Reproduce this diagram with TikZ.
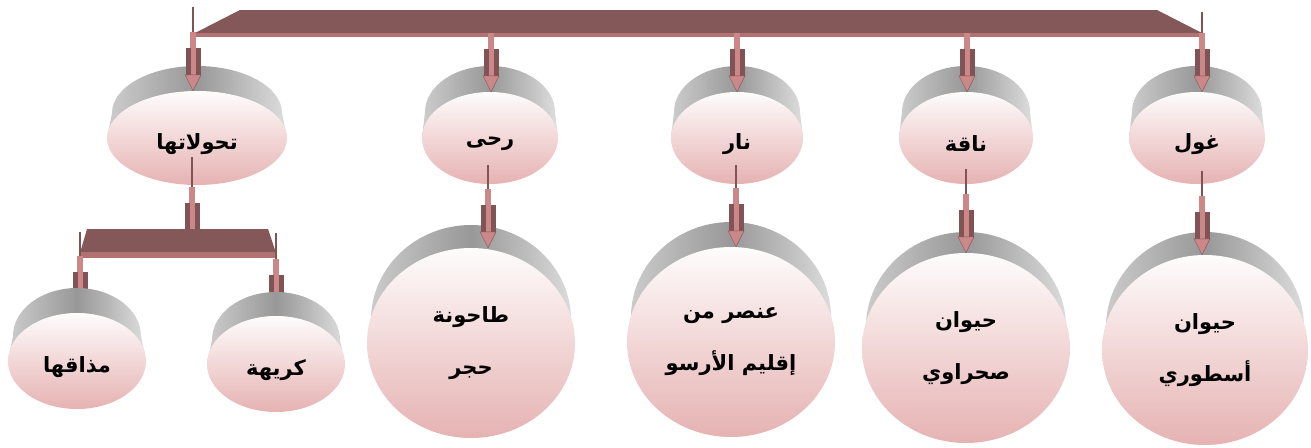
\documentclass[tikz,border=0pt]{standalone}
\usepackage{fontspec}
\newfontfamily\arabicfont[Script=Arabic]{DejaVu Sans}
\TeXXeTstate=1
\usetikzlibrary{shapes.geometric,calc}
\definecolor{barc}{RGB}{132,88,88}
\definecolor{barl}{RGB}{178,114,114}
\definecolor{arrp}{RGB}{204,136,136}
\definecolor{arrd}{RGB}{128,84,84}
\definecolor{pinktop}{RGB}{254,252,252}
\definecolor{pinkbot}{RGB}{230,178,178}
\definecolor{greyl}{RGB}{205,205,205}
\definecolor{greym}{RGB}{152,152,152}
\definecolor{greyr}{RGB}{222,222,222}
\tikzset{
  diskface/.style={ellipse, inner sep=0pt, top color=pinktop, bottom color=pinkbot,
    font=\arabicfont\bfseries\fontsize{21}{52}\selectfont, align=center, text=black},
  diskback/.style={left color=greyl, right color=greyr, middle color=greym},
  barbody/.style={fill=barc},
  barstrip/.style={fill=barl},
}
\newcommand\lowr[1]{\raisebox{-6pt}[\height][\depth]{\beginR #1\endR}}
% #1 name, #2 cx, #3 cy, #4 rx, #5 ry, #6 grey top, #7 grey rx, #8 text
\newcommand\mydisk[8]{%
  \shade[diskback] ({#2-#7},{#6+#5}) arc[start angle=180, end angle=0, x radius=#7pt, y radius=#5pt]
     -- ({#2+#4},#3) -- ({#2-#4},#3) -- cycle;
  \node[diskface, minimum width={2*#4pt}, minimum height={2*#5pt}] (#1) at (#2,#3) {#8};
}
% block arrow from coordinate #1 to coordinate #2
\newcommand\conn[2]{%
  \draw[arrd, line width=2.2pt] (#1) -- ($(#2)+(0,-59)$);
  \fill[arrp] ($(#2)+(-2.7,-59)$) rectangle ($(#2)+(2.7,-43)$);
  \fill[arrd] ($(#2)+(-7.5,-43)$) rectangle ($(#2)+(7.5,-16)$);
  \fill[arrp] ($(#2)+(-2.5,-43)$) rectangle ($(#2)+(2.5,-16)$);
  \filldraw[fill=arrp, draw=arrd, line width=0.4pt] ($(#2)+(-8,-16)$) -- ($(#2)+(8,-16)$) -- (#2) -- cycle;
}
\begin{document}
\begin{tikzpicture}[x=1pt,y=-1pt]
\useasboundingbox (0,0) rectangle (1311,447);
% top bar
\fill[barbody] (195,33) -- (240,10) -- (1157,10) -- (1202,33) -- cycle;
\fill[barstrip] (195,33) rectangle (1203,37);
\coordinate (t1) at (193,7);
\coordinate (t2) at (491,33);
\coordinate (t3) at (737,33);
\coordinate (t4) at (967,33);
\coordinate (t5) at (1202,12);
% top row disks
\mydisk{n1}{197}{138}{90}{47}{66}{85}{\lowr{تحولاتها}}
\mydisk{n2}{490}{138}{68}{46}{66}{65}{\lowr{رحى}}
\mydisk{n3}{737}{138}{66}{46}{66}{63}{\lowr{نار}}
\mydisk{n4}{966}{138}{67}{46}{66}{64}{\lowr{ناقة}}
\mydisk{n5}{1197}{138}{68}{46}{66}{65}{\lowr{غول}}
% big disks
\mydisk{n6}{471}{343}{104}{95}{225}{100}{\beginR طاحونة\endR\\\beginR حجر\endR}
\mydisk{n7}{731}{342}{104}{95}{222}{100}{\beginR عنصر من\endR\\\beginR إقليم الأرسو\endR}
\mydisk{n8}{966}{348}{104}{95}{232}{100}{\beginR حيوان\endR\\\beginR صحراوي\endR}
\mydisk{n9}{1205}{350}{103}{95}{232}{99}{\beginR حيوان\endR\\\beginR أسطوري\endR}
% arrows bar -> top disks
\conn{t1}{t1 |- n1.north}
\conn{t2}{t2 |- n2.north}
\conn{t3}{t3 |- n3.north}
\conn{t4}{t4 |- n4.north}
\conn{t5}{t5 |- n5.north}
% arrows top disks -> big disks
\coordinate (s2) at ($(n2.center)+(-2,27)$);
\coordinate (s3) at ($(n3.center)+(-1,27)$);
\coordinate (s4) at ($(n4.center)+(0,31)$);
\coordinate (s5) at ($(n5.center)+(5,33)$);
\conn{s2}{s2 |- n6.north}
\conn{s3}{s3 |- n7.north}
\conn{s4}{s4 |- n8.north}
\conn{s5}{s5 |- n9.north}
% sub branch
\coordinate (s1) at ($(n1.center)+(-5,19)$);
\coordinate (e1) at (192,246);
\conn{s1}{e1}
\fill[barbody] (80,253) -- (87,229) -- (268,229) -- (276,253) -- cycle;
\fill[barstrip] (80,252) rectangle (277,258);
\coordinate (u1) at (80,232);
\coordinate (u2) at (276,233);
\coordinate (v1) at (80,315);
\coordinate (v2) at (276,318);
\conn{u1}{v1}
\conn{u2}{v2}
\mydisk{n10}{77}{361}{69}{48}{288}{64}{\lowr{مذاقها}}
\mydisk{n11}{276}{364}{69}{48}{292}{64}{\lowr{كريهة}}
\end{tikzpicture}
\end{document}
